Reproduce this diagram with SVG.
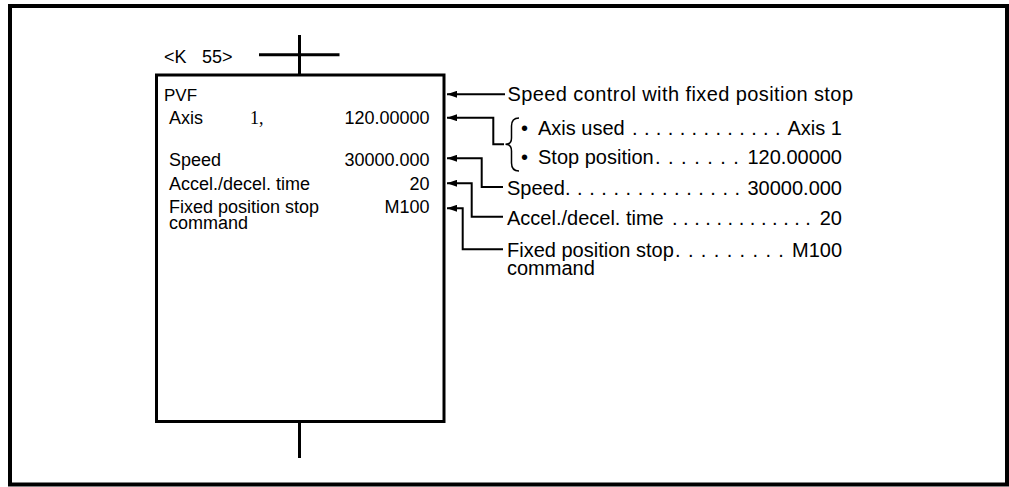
<svg xmlns="http://www.w3.org/2000/svg" width="1009" height="487" viewBox="0 0 1009 487">
<style>
text{font-family:"Liberation Sans",Arial,sans-serif;fill:#000}
.l{font-size:18px}
.r{font-size:20px}
.s{font-family:"Liberation Serif","Times New Roman",serif;font-size:18px}
.ln{fill:none;stroke:#000;stroke-width:3}
.c{fill:none;stroke:#000;stroke-width:2}
.e{text-anchor:end}
</style>
<defs>
<marker id="ah" viewBox="0 0 10 7" refX="10" refY="3.5" markerWidth="10" markerHeight="7" markerUnits="userSpaceOnUse" orient="auto">
<path d="M0,0 L10,3.5 L0,7 z" fill="#000"/>
</marker>
</defs>
<rect x="0" y="0" width="1009" height="487" fill="#fff"/>
<rect id="frame" x="10" y="6" width="997" height="478.5" fill="none" stroke="#000" stroke-width="4"/>
<g id="rung">
<line class="ln" x1="299.5" y1="35" x2="299.5" y2="75"/>
<line class="ln" x1="259" y1="54.7" x2="339.5" y2="54.7"/>
<line class="ln" x1="299.5" y1="421.5" x2="299.5" y2="458"/>
<text class="l" x="164" y="63.3">&lt;K<tspan x="202">55&gt;</tspan></text>
</g>
<g id="pvf-box">
<rect x="156.5" y="75" width="287.5" height="346.5" fill="none" stroke="#000" stroke-width="3"/>
<text x="164" y="100.7" style="font-size:17px">PVF</text>
<text class="l" x="169" y="123.5">Axis</text>
<text class="s" x="250" y="123.5">1,</text>
<text class="l e" x="429.5" y="123.8">120.00000</text>
<text class="l" x="169" y="166">Speed</text>
<text class="l e" x="429.5" y="165.8">30000.000</text>
<text class="l" x="169" y="190">Accel./decel. time</text>
<text class="l e" x="429.5" y="190">20</text>
<text class="l" x="169" y="212.7">Fixed position stop</text>
<text class="l" x="169" y="229">command</text>
<text class="l e" x="429.5" y="212.7">M100</text>
</g>
<g id="connectors">
<path class="c" d="M505,94.3 H447" marker-end="url(#ah)"/>
<path class="c" d="M504,144.3 H493.3 V117.7 H447" marker-end="url(#ah)"/>
<path class="c" d="M503,187 H481.7 V158.3 H447" marker-end="url(#ah)"/>
<path class="c" d="M503,216.7 H471.7 V183.3 H447" marker-end="url(#ah)"/>
<path class="c" d="M503,249.3 H462.7 V208.3 H447" marker-end="url(#ah)"/>
<path fill="none" stroke="#000" stroke-width="1.5" d="M519,118 C514,118 511.5,120 511.5,126 V138 C511.5,142 509.5,144.3 505.5,144.3 C509.5,144.3 511.5,147 511.5,151 V163 C511.5,169 514,171 519,171"/>
</g>
<g id="desc-title">
<text class="r" x="507.5" y="100.5" textLength="345.5" lengthAdjust="spacing">Speed control with fixed position stop</text>
</g>
<g id="desc-axis">
<text class="r" x="521" y="135">•</text>
<text class="r" x="538" y="135">Axis used<tspan x="632" style="letter-spacing:0.4px">. . . . . . . . . . . . .</tspan><tspan x="842" class="e">Axis 1</tspan></text>
<text class="r" x="521" y="163.5">•</text>
<text class="r" x="538" y="163.5">Stop position<tspan x="655" style="letter-spacing:0.97px">. . . . . . .</tspan><tspan x="842" class="e">120.00000</tspan></text>
</g>
<g id="desc-speed">
<text class="r" x="507" y="195">Speed<tspan x="565" style="letter-spacing:0.5px">. . . . . . . . . . . . . . .</tspan><tspan x="842" class="e">30000.000</tspan></text>
</g>
<g id="desc-accel">
<text class="r" x="507" y="225">Accel./decel. time<tspan x="672" style="letter-spacing:0px">. . . . . . . . . . . . .</tspan><tspan x="842" class="e">20</tspan></text>
</g>
<g id="desc-fixed">
<text class="r" x="507" y="257">Fixed position stop<tspan x="675" style="letter-spacing:0.9px">. . . . . . . . .</tspan><tspan x="842" class="e">M100</tspan></text>
<text class="r" x="507" y="275">command</text>
</g>
</svg>
